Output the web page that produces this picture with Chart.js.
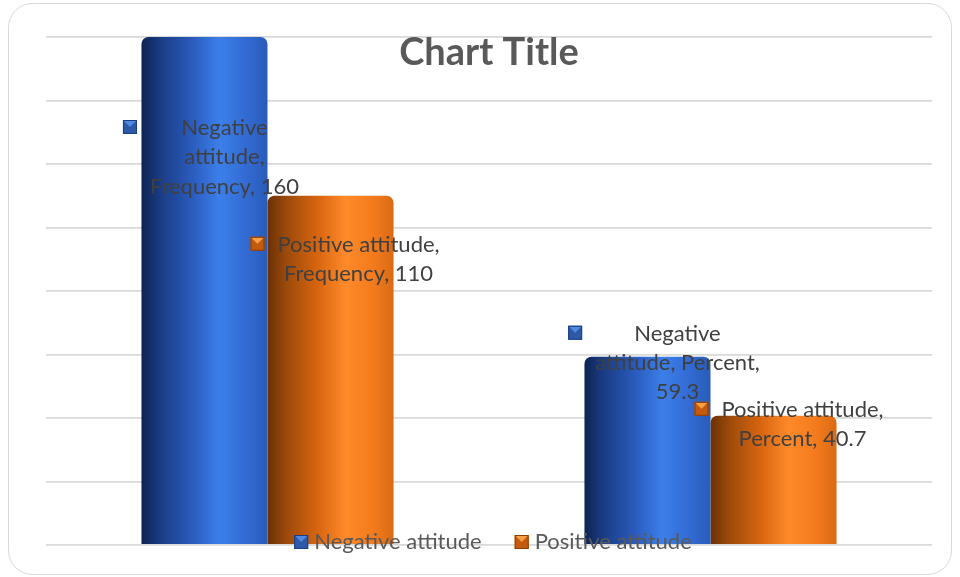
<!DOCTYPE html>
<html>
<head>
<meta charset="utf-8">
<script src="https://cdn.jsdelivr.net/npm/chart.js@4/dist/chart.umd.min.js"></script>
<style>
    html, body { margin: 0; padding: 0; background: #ffffff; }
    canvas { display: block; }
</style>
</head>
<body>
<canvas id="attitude_chart" width="960" height="577"></canvas>
<script>
const categories     = ["Frequency", "Percent"];
const seriesNames    = ["Negative attitude", "Positive attitude"];
const negativeValues = [160, 59.3];
const positiveValues = [110, 40.7];
const yTicks         = [0, 20, 40, 60, 80, 100, 120, 140, 160];
const chartTitle     = "Chart Title";

// where each label wraps (word index where a new line starts), per dataset, per category
const labelBreaks = [
    [[1, 2], [1, 3]],
    [[2], [2]]
];

const CAT_PCT = 0.569;

const blueStops = [
    [0, "#0d2454"], [0.15, "#1a3c84"], [0.4, "#2a5bbd"],
    [0.62, "#3c7fea"], [0.85, "#3169d0"], [1, "#2a5cb8"]
];
const orangeStops = [
    [0, "#6c3105"], [0.15, "#9c4a0b"], [0.4, "#d8650f"],
    [0.62, "#ff8a2a"], [0.85, "#f27a1c"], [1, "#d96a14"]
];
const markerColors = [
    {base: "#2c5aa8", light: "#5189e0", edge: "#1b3e80"},
    {base: "#c45a0e", light: "#f6a046", edge: "#8a3d08"}
];

function cylinder_fill(stops){
    return function(context){
        const chart = context.chart;
        const area  = chart.chartArea;
        if (!area || !chart.scales.x) return stops[3][1];
        const idx   = context.dataIndex ?? 0;
        const catW  = area.width / chart.data.labels.length;
        const barW  = catW * CAT_PCT / chart.data.datasets.length;
        const left  = chart.scales.x.getPixelForValue(idx) - catW * CAT_PCT / 2 + context.datasetIndex * barW;
        const grad  = chart.ctx.createLinearGradient(left, 0, left + barW, 0);
        for (let s of stops){
            grad.addColorStop(s[0], s[1]);
        }
        return grad;
    };
}

function draw_marker(ctx, x, y, size, colors){
    ctx.save();
    ctx.fillStyle = colors.base;
    ctx.fillRect(x, y, size, size);
    ctx.fillStyle = colors.light;
    ctx.beginPath();
    ctx.moveTo(x + 1, y + 1);
    ctx.lineTo(x + size - 1, y + 1);
    ctx.lineTo(x + size / 2, y + size / 2);
    ctx.closePath();
    ctx.fill();
    ctx.strokeStyle = colors.edge;
    ctx.lineWidth = 1;
    ctx.strokeRect(x + 0.5, y + 0.5, size - 1, size - 1);
    ctx.restore();
}

// frame, title, data labels and the legend drawn over the plot
const decorations = {
    id: "decorations",
    beforeDraw(chart){
        const ctx = chart.ctx;
        ctx.save();
        ctx.fillStyle = "#ffffff";
        ctx.fillRect(0, 0, chart.width, chart.height);
        ctx.beginPath();
        ctx.roundRect(8.5, 3.5, chart.width - 17, chart.height - 6, 24);
        ctx.strokeStyle = "#d9d9d9";
        ctx.lineWidth = 1;
        ctx.stroke();
        ctx.restore();
    },
    afterDatasetsDraw(chart){
        const ctx  = chart.ctx;
        const area = chart.chartArea;
        const offsets = [
            [[20, 91], [30, -23]],
            [[28, 49], [29, -6]]
        ];
        ctx.save();
        ctx.font = "22px Lato";
        ctx.fillStyle = "#404040";
        ctx.textAlign = "center";
        ctx.textBaseline = "middle";
        chart.data.datasets.forEach((ds, di) => {
            const meta = chart.getDatasetMeta(di);
            meta.data.forEach((bar, i) => {
                const words = (ds.label + ", " + chart.data.labels[i] + ", " + ds.data[i]).split(" ");
                const lines = [];
                let start = 0;
                for (let b of labelBreaks[di][i].concat([words.length])){
                    lines.push(words.slice(start, b).join(" "));
                    start = b;
                }
                const cx = bar.x + offsets[di][i][0];
                const y0 = bar.y + offsets[di][i][1];
                let maxW = 0;
                lines.forEach((ln, k) => {
                    ctx.fillText(ln, cx, y0 + k * 29.3);
                    maxW = Math.max(maxW, ctx.measureText(ln).width);
                });
                draw_marker(ctx, cx - maxW / 2 - 27, y0 - 8, 14, markerColors[di]);
            });
        });

        // legend
        ctx.font = "22px Lato";
        ctx.textAlign = "left";
        ctx.fillStyle = "#595959";
        const gap = 33;
        const widths = chart.data.datasets.map(ds => 20 + ctx.measureText(ds.label).width);
        const total = widths.reduce((a, b) => a + b, 0) + gap * (widths.length - 1);
        let lx = (area.left + area.right) / 2 - total / 2 + 4;
        const ly = area.bottom - 3;
        chart.data.datasets.forEach((ds, di) => {
            draw_marker(ctx, lx, ly - 7, 14, markerColors[di]);
            ctx.fillText(ds.label, lx + 20, ly);
            lx += widths[di] + gap;
        });

        // title
        ctx.font = "bold 38px Lato";
        ctx.textAlign = "center";
        ctx.fillStyle = "#595959";
        ctx.fillText(chartTitle, (area.left + area.right) / 2, area.top + 16);
        ctx.restore();
    }
};

const ctx     = document.getElementById("attitude_chart").getContext("2d");
const myChart = new Chart(ctx, {
    type: "bar",
    data: {
        labels: categories,
        datasets: [
            {
                label: seriesNames[0],
                data: negativeValues,
                backgroundColor: cylinder_fill(blueStops),
                borderRadius: {topLeft: 7, topRight: 7},
                borderSkipped: "bottom"
            },
            {
                label: seriesNames[1],
                data: positiveValues,
                backgroundColor: cylinder_fill(orangeStops),
                borderRadius: {topLeft: 7, topRight: 7},
                borderSkipped: "bottom"
            }
        ]
    },
    options: {
        responsive: false,
        animation: false,
        devicePixelRatio: 1,
        layout: {
            padding: {left: 46, right: 28, top: 37, bottom: 32}
        },
        datasets: {
            bar: {
                categoryPercentage: CAT_PCT,
                barPercentage: 1
            }
        },
        scales: {
            x: {
                display: false
            },
            y: {
                min: yTicks[0],
                max: yTicks[yTicks.length - 1],
                afterBuildTicks: axis => {
                    axis.ticks = yTicks.map(v => ({value: v}));
                },
                afterFit: axis => { axis.width = 0; },
                ticks: { display: false },
                border: { display: false },
                grid: {
                    color: "#d9d9d9",
                    lineWidth: 1.8,
                    drawTicks: false
                }
            }
        },
        plugins: {
            legend: { display: false },
            title: { display: false },
            tooltip: { enabled: false }
        }
    },
    plugins: [decorations]
});
</script>
</body>
</html>
